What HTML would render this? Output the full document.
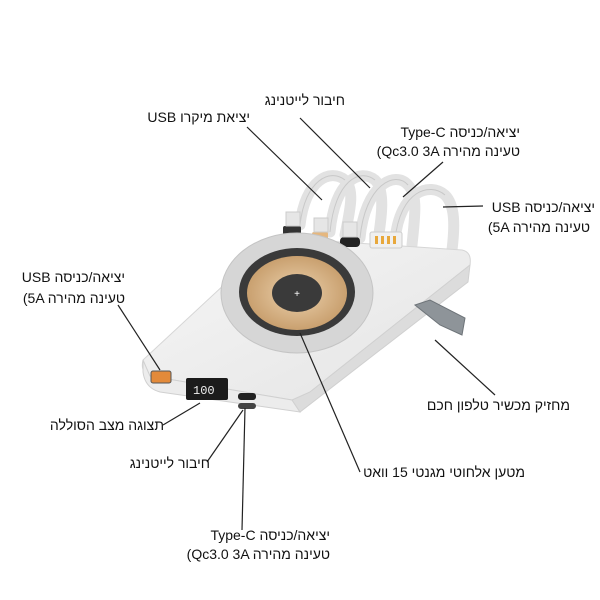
<!DOCTYPE html>
<html><head><meta charset="utf-8"><style>
body{margin:0;background:#fff;width:600px;height:600px;overflow:hidden;position:relative;font-family:"Liberation Sans","Noto Sans CJK SC",sans-serif;}
.t{position:absolute;font-size:14px;color:#111;white-space:nowrap;line-height:18px;direction:rtl;text-align:right;}
.v{position:absolute;font-size:14px;color:#111;white-space:nowrap;line-height:18px;direction:ltr;unicode-bidi:bidi-override;}
svg{position:absolute;left:0;top:0}
</style></head><body>
<svg width="600" height="600" viewBox="0 0 600 600">
<defs>
<radialGradient id="cu" cx="50%" cy="50%" r="50%"><stop offset="0" stop-color="#ecd2ae"/><stop offset="1" stop-color="#c9a06f"/></radialGradient>
<linearGradient id="body" x1="0" y1="0" x2="1" y2="1"><stop offset="0" stop-color="#f6f6f6"/><stop offset="1" stop-color="#e4e4e4"/></linearGradient>
</defs>
<g fill="none" stroke="#e2e2e2" stroke-width="11" stroke-linecap="round">
<path d="M300 225 C305 180 330 168 345 180 C355 190 350 210 345 235"/>
<path d="M330 232 C335 180 360 168 375 180 C385 190 382 215 378 240"/>
<path d="M360 238 C365 185 395 170 408 185 C418 195 415 215 412 245"/>
<path d="M395 240 C400 190 430 182 445 195 C455 205 455 225 452 250"/>
</g>
<g fill="none" stroke="#c8c8c8" stroke-width="1">
<path d="M300 225 C305 180 330 168 345 180"/><path d="M330 232 C335 180 360 168 375 180"/><path d="M360 238 C365 185 395 170 408 185"/><path d="M395 240 C400 190 430 182 445 195"/>
</g>
<path d="M280 238 L462 250 Q472 252 470 265 L310 392 Q302 400 292 400 L150 376 Q140 372 143 360 L268 244 Q272 238 280 238Z" fill="url(#body)" stroke="#d6d6d6"/>
<path d="M143 360 L150 376 L292 400 L300 412 L160 392 Q145 388 143 372Z" fill="#ececec" stroke="#d0d0d0"/>
<path d="M470 265 L468 282 L300 412 L292 400 L310 392Z" fill="#dcdcdc" stroke="#d0d0d0"/>
<rect x="283" y="226" width="18" height="10" rx="2" fill="#333"/>
<rect x="312" y="232" width="16" height="10" rx="2" fill="#e5b77f"/>
<rect x="340" y="237" width="20" height="10" rx="4" fill="#222"/>
<rect x="370" y="232" width="32" height="16" rx="2" fill="#f0f0f0" stroke="#ccc"/>
<g fill="#e8a83c"><rect x="375" y="236" width="3" height="8"/><rect x="381" y="236" width="3" height="8"/><rect x="387" y="236" width="3" height="8"/><rect x="393" y="236" width="3" height="8"/></g>
<rect x="286" y="212" width="14" height="14" fill="#e6e6e6" stroke="#ccc"/>
<rect x="314" y="218" width="14" height="14" fill="#e6e6e6" stroke="#ccc"/>
<rect x="343" y="222" width="14" height="15" fill="#e6e6e6" stroke="#ccc"/>
<ellipse cx="297" cy="293" rx="76" ry="60" fill="#d6d6d6" stroke="#c4c4c4"/>
<ellipse cx="297" cy="292" rx="58" ry="44" fill="#3a3a3a"/>
<ellipse cx="297" cy="293" rx="50" ry="37" fill="url(#cu)"/>
<ellipse cx="297" cy="293" rx="25" ry="19" fill="#3a3a3a"/>
<text x="297" y="297" font-size="10" fill="#fff" text-anchor="middle">+</text>
<path d="M415 305 L430 300 L465 318 L462 335 L440 325Z" fill="#8e9499" stroke="#6e7479"/>
<rect x="151" y="371" width="20" height="12" rx="2" fill="#e38a3a" stroke="#555"/>
<rect x="186" y="378" width="42" height="22" rx="2" fill="#1b1b1b"/>
<text x="193" y="394" font-size="12" fill="#eee" font-family="Liberation Mono">100</text>
<rect x="238" y="393" width="18" height="7" rx="3" fill="#222"/>
<rect x="238" y="403" width="18" height="6" rx="3" fill="#444"/>
<g stroke="#222" stroke-width="1.2">
<line x1="247" y1="127" x2="322" y2="200"/>
<line x1="300" y1="118" x2="370" y2="188"/>
<line x1="443" y1="162" x2="403" y2="197"/>
<line x1="483" y1="206" x2="443" y2="207"/>
<line x1="118" y1="305" x2="160" y2="370"/>
<line x1="495" y1="395" x2="435" y2="340"/>
<line x1="163" y1="425" x2="200" y2="403"/>
<line x1="207" y1="462" x2="243" y2="410"/>
<line x1="360" y1="472" x2="300" y2="333"/>
<line x1="242" y1="530" x2="245" y2="408"/>
</g>
</svg>
<div class="t" style="right:255px;top:91px">חיבור לייטנינג</div>
<div class="t" style="right:350px;top:108px">יציאת מיקרו USB</div>
<div class="t" style="right:80px;top:123px">יציאה/כניסה Type-C</div>
<div class="v" style="right:80px;top:142px">(Qc3.0 3A הריהמ הניעט</div>
<div class="t" style="right:5px;top:198px">יציאה/כניסה USB</div>
<div class="v" style="right:10px;top:218px">(5A הריהמ הניעט</div>
<div class="t" style="right:475px;top:268px">יציאה/כניסה USB</div>
<div class="v" style="right:475px;top:289px">(5A הריהמ הניעט</div>
<div class="t" style="right:30px;top:396px">מחזיק מכשיר טלפון חכם</div>
<div class="t" style="right:436px;top:416px">תצוגה מצב הסוללה</div>
<div class="t" style="right:390px;top:454px">חיבור לייטנינג</div>
<div class="t" style="right:75px;top:463px">מטען אלחוטי מגנטי 15 וואט</div>
<div class="t" style="right:270px;top:526px">יציאה/כניסה Type-C</div>
<div class="v" style="right:270px;top:545px">(Qc3.0 3A הריהמ הניעט</div>
</body></html>
